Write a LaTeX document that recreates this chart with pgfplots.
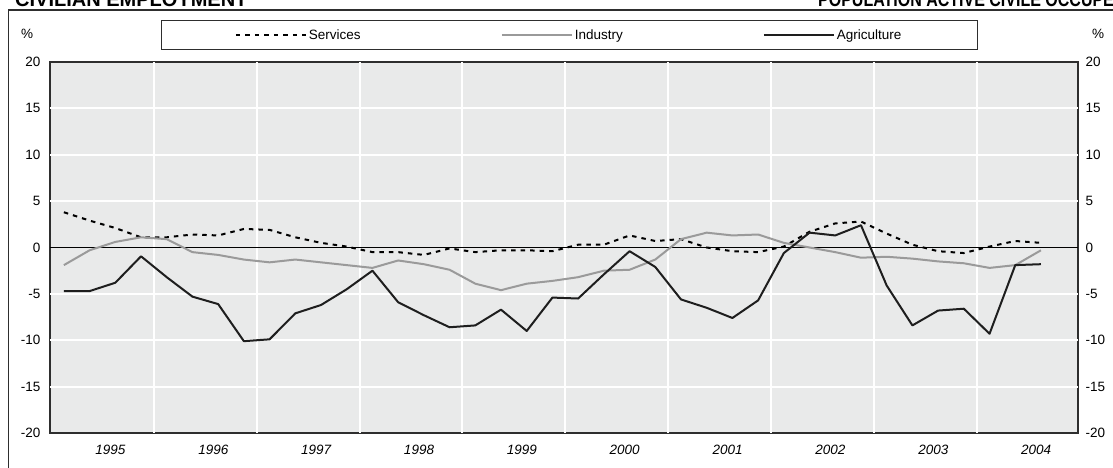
\documentclass[border=0pt]{standalone}
\usepackage{fontspec}
\setmainfont{Liberation Sans}
\usepackage{pgfplots}
\usepackage{pgfplotstable}
\pgfplotsset{compat=1.18}
\definecolor{bgplot}{HTML}{E9EAEA}
\definecolor{indgray}{HTML}{9A9A9A}
\definecolor{framec}{HTML}{2E2E2E}
\definecolor{agrc}{HTML}{1E1E1E}

\pgfplotstableread{
q ser ind agr
0 3.8 -1.9 -4.7
1 2.9 -0.3 -4.7
2 2.1 0.6 -3.8
3 1.1 1.1 -0.95
4 1.1 0.9 -3.2
5 1.4 -0.5 -5.3
6 1.3 -0.8 -6.1
7 2.0 -1.3 -10.1
8 1.9 -1.6 -9.9
9 1.1 -1.3 -7.1
10 0.5 -1.6 -6.2
11 0.1 -1.9 -4.5
12 -0.5 -2.2 -2.5
13 -0.5 -1.4 -5.9
14 -0.8 -1.8 -7.3
15 -0.1 -2.4 -8.6
16 -0.5 -3.9 -8.4
17 -0.3 -4.6 -6.7
18 -0.3 -3.9 -9.0
19 -0.4 -3.6 -5.4
20 0.3 -3.2 -5.5
21 0.3 -2.5 -2.9
22 1.3 -2.4 -0.4
23 0.7 -1.3 -2.1
24 0.9 0.9 -5.6
25 0.0 1.6 -6.5
26 -0.4 1.3 -7.6
27 -0.5 1.4 -5.7
28 0.1 0.5 -0.6
29 1.7 0.0 1.6
30 2.6 -0.5 1.3
31 2.8 -1.1 2.4
32 1.5 -1.0 -4.1
33 0.3 -1.2 -8.4
34 -0.4 -1.5 -6.8
35 -0.6 -1.7 -6.6
36 0.1 -2.2 -9.3
37 0.7 -1.9 -1.9
38 0.5 -0.3 -1.8
}\data

\begin{document}
\begin{tikzpicture}[x=1pt,y=1pt]
\useasboundingbox (0,0) rectangle (1113,468);
\clip (0,0) rectangle (1113,468);
\draw[framec, line width=1.5pt] (8.5,-5) -- (8.5,458) -- (1120,458);
\node[anchor=base west, inner sep=0, font=\fontsize{20}{24}\selectfont\bfseries] at (15,461) {CIVILIAN EMPLOYMENT};
\node[anchor=base west, inner sep=0, xscale=0.8, font=\fontsize{20}{24}\selectfont\bfseries] at (818,461) {POPULATION ACTIVE CIVILE OCCUPÉE};
\node[anchor=west, inner sep=0, font=\fontsize{13.5}{16}\selectfont] at (21,434) {\%};
\node[anchor=west, inner sep=0, font=\fontsize{13.5}{16}\selectfont] at (1092,434) {\%};

\begin{axis}[
  at={(50pt,35pt)}, anchor=south west,
  width=1028pt, height=371pt, scale only axis,
  xmin=-0.54, xmax=39.44, ymin=-20, ymax=20,
  axis background/.style={fill=bgplot},
  axis line style={framec, line width=1.3pt},
  ytick={-20,-15,...,20},
  extra y ticks={-15,-10,-5,5,10,15},
  extra y tick labels={},
  extra y tick style={ymajorgrids=true, grid style={white, line width=2pt}},
  xtick={1.5,5.5,...,37.5},
  xticklabels={1995,1996,1997,1998,1999,2000,2001,2002,2003,2004},
  extra x ticks={3.5,7.5,...,35.5},
  extra x tick labels={},
  extra x tick style={xmajorgrids=true, grid style={white, line width=2pt}},
  major tick length=0pt, minor tick length=0pt,
  tick style={draw=none},
  /pgf/number format/assume math mode=true,
  yticklabel style={font=\fontsize{13.5}{16}\selectfont, xshift=-6pt},
  xticklabel style={font=\fontsize{13.5}{16}\selectfont\itshape, yshift=-9pt, xshift=8pt},
  legend style={at={(axis description cs:0.505,1.0728)}, anchor=center,
    draw=framec, line width=0.8pt, legend columns=3,
    font=\fontsize{13.5}{16}\selectfont, inner xsep=74pt, inner ysep=7pt,
    /tikz/every even column/.append style={column sep=138pt}},
  legend image code/.code={\draw[#1] (0pt,0pt) -- (70pt,0pt);},
]
\addplot[black, line width=0.8pt, forget plot] coordinates {(-0.54,0) (39.44,0)};
\addplot[black, line width=2pt, dash pattern=on 4.5pt off 5pt] table[x=q, y=ser] {\data};
\addlegendentry{Services}
\addplot[indgray, line width=2pt, line join=round] table[x=q, y=ind] {\data};
\addlegendentry{Industry}
\addplot[agrc, line width=2pt, line join=round] table[x=q, y=agr] {\data};
\addlegendentry{Agriculture}
\end{axis}

\begin{axis}[
  at={(50pt,35pt)}, anchor=south west,
  width=1028pt, height=371pt, scale only axis,
  xmin=-0.54, xmax=39.44, ymin=-20, ymax=20,
  hide x axis,
  axis y line*=right,
  y axis line style={draw=none},
  ytick={-20,-15,...,20},
  major tick length=0pt,
  tick style={draw=none},
  /pgf/number format/assume math mode=true,
  yticklabel style={font=\fontsize{13.5}{16}\selectfont, xshift=4pt},
]
\end{axis}
\end{tikzpicture}
\end{document}
